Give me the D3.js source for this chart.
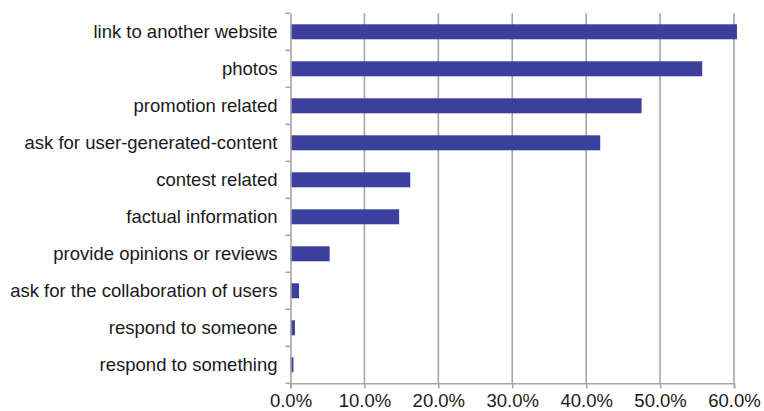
<!DOCTYPE html>
<html>
<head>
<meta charset="utf-8">
<script src="https://cdn.jsdelivr.net/npm/d3@7"></script>
<style>
  body { margin: 0; background: #fff; }
  text { font-family: "Liberation Sans", Arial, sans-serif; }
</style>
</head>
<body>
<div id="chart"></div>
<script>
// data
var categories = ["link to another website", "photos", "promotion related",
  "ask for user-generated-content", "contest related", "factual information",
  "provide opinions or reviews", "ask for the collaboration of users",
  "respond to someone", "respond to something"];
var values = [60.4, 55.7, 47.5, 41.9, 16.2, 14.7, 5.3, 1.15, 0.6, 0.4];
var xTicks = [0, 10, 20, 30, 40, 50, 60];

var W = 764, H = 411;
var margin = {top: 13.3, right: 30, bottom: 28, left: 290.5};
var width = 734 - margin.left,
    height = 383.3 - margin.top;

var svg = d3.select("#chart").append("svg")
    .attr("width", W)
    .attr("height", H);

var g = svg.append("g")
    .attr("transform", "translate(" + margin.left + "," + margin.top + ")");

var x = d3.scaleLinear().domain([0, 60]).range([0, width]);
var y = d3.scaleBand().domain(categories).range([0, height]).paddingInner(0.595).paddingOuter(0.2975);
var yb = d3.scaleBand().domain(categories).range([0, height]);

// gridlines
g.selectAll(".grid")
  .data(xTicks.slice(1))
  .enter().append("line")
    .attr("x1", function(d) { return x(d); })
    .attr("x2", function(d) { return x(d); })
    .attr("y1", 0)
    .attr("y2", height)
    .attr("stroke", "#a6a6a6")
    .attr("stroke-width", 1.6);

// bars
g.selectAll(".bar")
  .data(values)
  .enter().append("rect")
    .attr("x", 0)
    .attr("y", function(d, i) { return y(categories[i]); })
    .attr("width", function(d) { return x(d); })
    .attr("height", y.bandwidth())
    .attr("fill", "#3b3f9e");

// y axis
var gy = g.append("g")
  .call(d3.axisLeft(yb).tickSize(0).tickPadding(13));
gy.select(".domain").attr("stroke", "#a6a6a6").attr("stroke-width", 1.6);
gy.selectAll("text").style("font-size", "18.5px").attr("fill", "#1a1a1a");
// y ticks at band boundaries
g.selectAll(".ytick")
  .data(d3.range(categories.length + 1))
  .enter().append("line")
    .attr("x1", -5).attr("x2", 0)
    .attr("y1", function(d) { return d * yb.step(); })
    .attr("y2", function(d) { return d * yb.step(); })
    .attr("stroke", "#a6a6a6")
    .attr("stroke-width", 1.6);

// x axis
var gx = g.append("g")
  .attr("transform", "translate(0," + height + ")")
  .call(d3.axisBottom(x).tickValues(xTicks).tickSize(5).tickPadding(6)
    .tickFormat(function(d) { return d.toFixed(1) + "%"; }));
gx.select(".domain").attr("stroke", "#a6a6a6").attr("stroke-width", 1.6);
gx.selectAll(".tick line").attr("stroke", "#a6a6a6").attr("stroke-width", 1.6);
gx.selectAll("text").style("font-size", "18.5px").attr("fill", "#1a1a1a");
</script>
</body>
</html>
